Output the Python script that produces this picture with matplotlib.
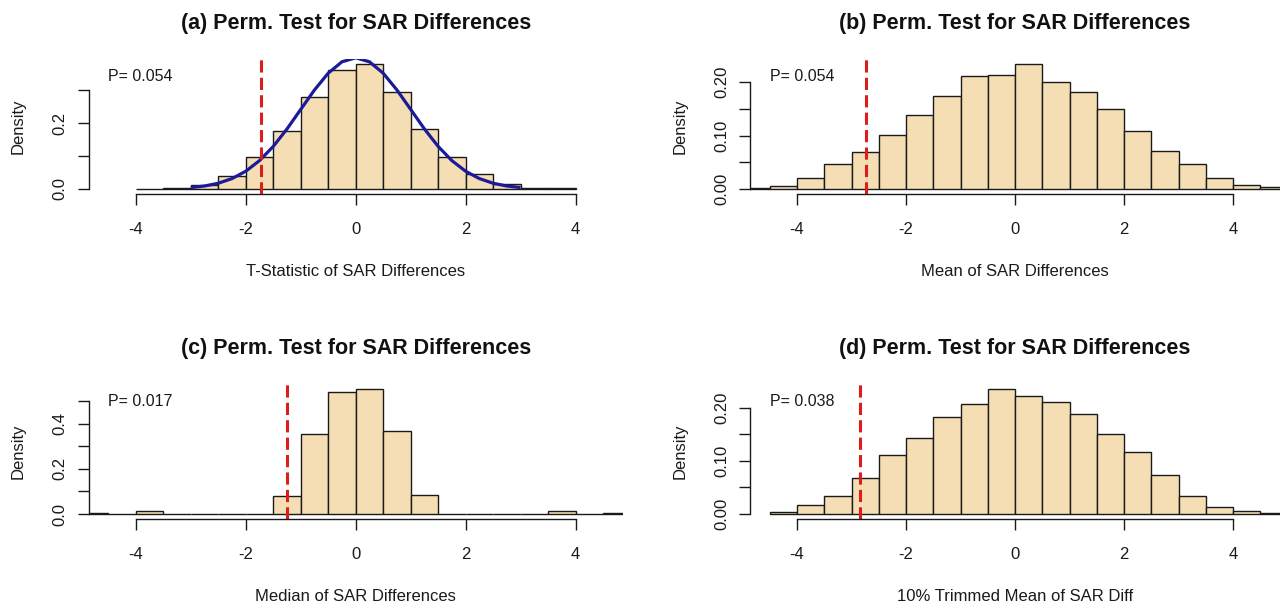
import matplotlib.pyplot as plt
import numpy as np
from matplotlib import transforms

W, H = 1286, 605

# histogram densities (bin width 0.5), first break given separately
BIN_WIDTH = 0.5
TSTAT_START = -4.0
TSTAT_DENSITY = [0.001, 0.004, 0.013, 0.041, 0.097, 0.175, 0.279, 0.362,
                 0.380, 0.296, 0.183, 0.096, 0.045, 0.016, 0.004, 0.003]
MEAN_START = -5.0
MEAN_DENSITY = [0.002, 0.005, 0.021, 0.047, 0.070, 0.102, 0.139, 0.175, 0.211, 0.214,
                0.234, 0.201, 0.182, 0.149, 0.109, 0.072, 0.047, 0.021, 0.008, 0.003]
MEDIAN_START = -5.0
MEDIAN_DENSITY = [0.005, 0.0, 0.013, 0.0, 0.0, 0.0, 0.0, 0.079, 0.354, 0.541,
                  0.554, 0.366, 0.085, 0.0, 0.0, 0.0, 0.0, 0.013, 0.0, 0.005]
TRIM_START = -4.5
TRIM_DENSITY = [0.004, 0.016, 0.034, 0.068, 0.111, 0.142, 0.183, 0.206, 0.235, 0.222,
                0.211, 0.188, 0.150, 0.116, 0.073, 0.034, 0.014, 0.006, 0.001]

# reference density curve drawn over panel (a)
CURVE_X = [-3.0, -2.75, -2.5, -2.25, -2.0, -1.75, -1.5, -1.25, -1.0, -0.75, -0.5, -0.25, 0.0,
           0.25, 0.5, 0.75, 1.0, 1.25, 1.5, 1.75, 2.0, 2.25, 2.5, 2.75, 3.0]
CURVE_Y = [0.0044, 0.0091, 0.0175, 0.0317, 0.0540, 0.0863, 0.1295, 0.1826, 0.2420, 0.3011,
           0.3521, 0.3867, 0.3989, 0.3867, 0.3521, 0.3011, 0.2420, 0.1826, 0.1295, 0.0863,
           0.0540, 0.0317, 0.0175, 0.0091, 0.0044]

OBSERVED = [-1.72, -2.73, -1.25, -2.84]
P_LABELS = ["P= 0.054", "P= 0.054", "P= 0.017", "P= 0.038"]
TITLES = [
    "(a) Perm. Test for SAR Differences",
    "(b) Perm. Test for SAR Differences",
    "(c) Perm. Test for SAR Differences",
    "(d) Perm. Test for SAR Differences",
]
XLABELS = [
    "T-Statistic of SAR Differences",
    "Mean of SAR Differences",
    "Median of SAR Differences",
    "10% Trimmed Mean of SAR Diff",
]
X_TICKS = [-4, -2, 0, 2, 4]
Y_TICKS = [
    [0.0, 0.1, 0.2, 0.3],
    [0.0, 0.05, 0.10, 0.15, 0.20],
    [0.0, 0.1, 0.2, 0.3, 0.4, 0.5],
    [0.0, 0.05, 0.10, 0.15, 0.20],
]
Y_TICK_LABELS = [
    ["0.0", "", "0.2", ""],
    ["0.00", "", "0.10", "", "0.20"],
    ["0.0", "", "0.2", "", "0.4", ""],
    ["0.00", "", "0.10", "", "0.20"],
]

# plot regions in pixels: left, right, top, bottom
BOXES = [
    (88.6, 622.8, 59, 194),
    (750.2, 1280.0, 59, 194),
    (88.6, 622.8, 384, 519),
    (750.2, 1280.0, 384, 519),
]

WHEAT = "#F5DEB3"
RED = "#DD1C1C"
NAVY = "#1B1B9A"
INK = "#1A1A1A"


def fx(x):
    return x / W


def fy(y):
    return 1 - y / H


def draw_panel(fig, i, start, density, curve=None):
    left, right, top, bottom = BOXES[i]
    ax = fig.add_axes([fx(left), fy(bottom), fx(right - left), (bottom - top) / H])
    density = np.asarray(density)
    edges = start + BIN_WIDTH * np.arange(len(density))
    ax.bar(edges, density, width=BIN_WIDTH, align="edge", color=WHEAT,
           edgecolor=INK, linewidth=1.0)
    if curve is not None:
        ax.plot(curve[0], curve[1], color=NAVY, linewidth=2.3, solid_capstyle="butt")
    ax.axvline(OBSERVED[i], color=RED, linewidth=2.2, dashes=(4, 1.7))

    ymax = density.max()
    ax.set_xlim(-4.86, 4.86)
    ax.set_ylim(-0.04 * ymax, 1.04 * ymax)

    for side in ["top", "right"]:
        ax.spines[side].set_visible(False)
    ax.spines["left"].set_bounds(0, Y_TICKS[i][-1])
    ax.spines["bottom"].set_bounds(X_TICKS[0], X_TICKS[-1])
    for side in ["left", "bottom"]:
        ax.spines[side].set_linewidth(1.0)
        ax.spines[side].set_color(INK)

    ax.set_xticks(X_TICKS)
    ax.set_xticklabels([str(t) for t in X_TICKS])
    ax.set_yticks(Y_TICKS[i])
    ax.set_yticklabels(Y_TICK_LABELS[i])
    ax.tick_params(axis="x", length=8, width=1.0, pad=12, labelsize=12, colors=INK)
    ax.tick_params(axis="y", length=8, width=1.0, pad=7, labelsize=12, colors=INK)
    for lbl in ax.get_yticklabels():
        lbl.set_rotation(90)
        lbl.set_va("center")
    ax.patch.set_alpha(0)

    trans = transforms.blended_transform_factory(ax.transData, ax.transAxes)
    ax.text(-4.5, 0.867, P_LABELS[i], transform=trans, ha="left", va="center",
            fontsize=11.5, color=INK)

    cx = (left + right) / 2
    fig.text(fx(cx), fy(top - 30), TITLES[i], ha="center", va="baseline",
             fontsize=15.5, fontweight="bold", color="#111111")
    fig.text(fx(cx), fy(bottom + 82), XLABELS[i], ha="center", va="baseline",
             fontsize=12, color=INK)
    fig.text(fx(left - 70), fy((top + bottom) / 2), "Density", rotation=90,
             ha="center", va="center", fontsize=12, color=INK)
    return ax


def main():
    plt.rcParams["font.family"] = ["Liberation Sans", "DejaVu Sans"]
    fig = plt.figure(figsize=(W / 100, H / 100), dpi=100)
    fig.patch.set_facecolor("white")

    draw_panel(fig, 0, TSTAT_START, TSTAT_DENSITY, curve=(CURVE_X, CURVE_Y))
    draw_panel(fig, 1, MEAN_START, MEAN_DENSITY)
    draw_panel(fig, 2, MEDIAN_START, MEDIAN_DENSITY)
    draw_panel(fig, 3, TRIM_START, TRIM_DENSITY)

    fig.savefig("out.png", dpi=100)
    plt.close(fig)


if __name__ == "__main__":
    main()
